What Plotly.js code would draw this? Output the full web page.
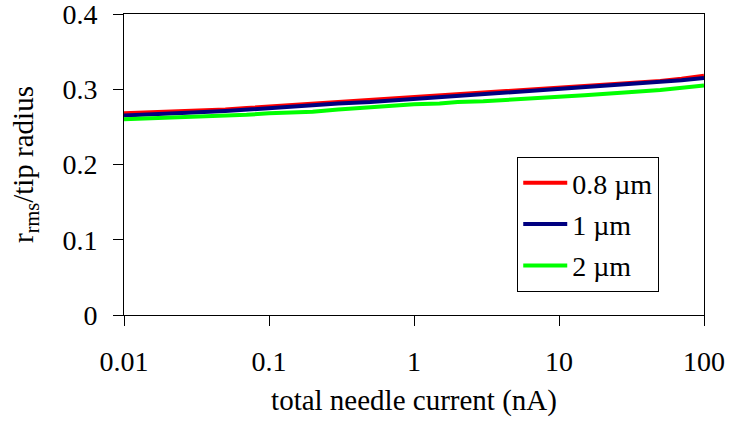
<!DOCTYPE html>
<html>
<head>
<meta charset="utf-8">
<script src="https://cdn.plot.ly/plotly-3.0.1.min.js"></script>
<style>html,body{margin:0;padding:0;background:#fff;}#chart{width:729px;height:421px;}</style>
</head>
<body>
<div id="chart"></div>
<script>
var current = [0.01, 0.015, 0.02, 0.03, 0.05, 0.07, 0.1, 0.15, 0.2, 0.3, 0.5, 0.7, 1, 1.5, 2, 3, 5, 7, 10, 15, 20, 30, 50, 70, 100];
var r08 = [0.268, 0.269, 0.270, 0.271, 0.273, 0.275, 0.277, 0.279, 0.281, 0.283, 0.285, 0.287, 0.290, 0.292, 0.294, 0.296, 0.298, 0.300, 0.302, 0.304, 0.306, 0.308, 0.311, 0.314, 0.318];
var r1 = [0.265, 0.266, 0.267, 0.269, 0.271, 0.273, 0.275, 0.277, 0.279, 0.281, 0.283, 0.285, 0.287, 0.289, 0.291, 0.293, 0.296, 0.298, 0.300, 0.302, 0.304, 0.306, 0.309, 0.312, 0.315];
var r2 = [0.260, 0.261, 0.262, 0.263, 0.265, 0.266, 0.268, 0.269, 0.270, 0.273, 0.276, 0.278, 0.280, 0.281, 0.283, 0.284, 0.286, 0.288, 0.290, 0.292, 0.294, 0.296, 0.299, 0.302, 0.305];
var seriesNames = ['0.8 \u00b5m', '1 \u00b5m', '2 \u00b5m'];
var xTickVals = [0.01, 0.1, 1, 10, 100];
var xTickText = ['0.01', '0.1', '1', '10', '100'];
var yTickVals = [0, 0.1, 0.2, 0.3, 0.4];
var yTickText = ['0', '0.1', '0.2', '0.3', '0.4'];

var colors = ['#ff0000', '#000080', '#00ff00'];
var ys = [r08, r1, r2];
var traces = ys.map(function (y, i) {
  return {
    x: current, y: y, type: 'scatter', mode: 'lines',
    name: seriesNames[i], legendgroup: 'g' + i,
    line: {color: colors[i], width: 4}
  };
});

var font = 'Liberation Serif';
var layout = {
  width: 729, height: 421,
  margin: {l: 124, r: 25, t: 14, b: 106},
  paper_bgcolor: '#fff', plot_bgcolor: '#fff',
  font: {family: font, size: 26, color: '#000'},
  showlegend: true,
  legend: {
    x: 0.678, y: 0.525, xanchor: 'left', yanchor: 'top',
    bordercolor: '#000', borderwidth: 1, bgcolor: '#fff',
    font: {family: font, size: 28, color: '#000'},
    itemwidth: 44,
    traceorder: 'grouped', tracegroupgap: 2
  },
  xaxis: {
    type: 'log', range: [-2, 2],
    tickvals: xTickVals, ticktext: xTickText,
    ticks: 'outside', ticklen: 10, tickcolor: '#000', tickwidth: 1,
    ticklabelstandoff: 11, ticklabeloverflow: 'allow',
    showline: true, linecolor: '#000', linewidth: 1, mirror: true,
    showgrid: false, zeroline: false,
    tickfont: {family: font, size: 28},
    title: {text: 'total needle current (nA)', font: {family: font, size: 29}, standoff: 14}
  },
  yaxis: {
    range: [0, 0.4],
    tickvals: yTickVals, ticktext: yTickText,
    ticks: 'outside', ticklen: 10, tickcolor: '#000', tickwidth: 1,
    ticklabelstandoff: 10, ticklabeloverflow: 'allow',
    showline: true, linecolor: '#000', linewidth: 1, mirror: true,
    showgrid: false, zeroline: false,
    tickfont: {family: font, size: 28},
    title: {text: 'r<sub>rms</sub>/tip radius', font: {family: font, size: 29}, standoff: 20}
  }
};
Plotly.newPlot('chart', traces, layout, {displayModeBar: false, staticPlot: true});
</script>
</body>
</html>
